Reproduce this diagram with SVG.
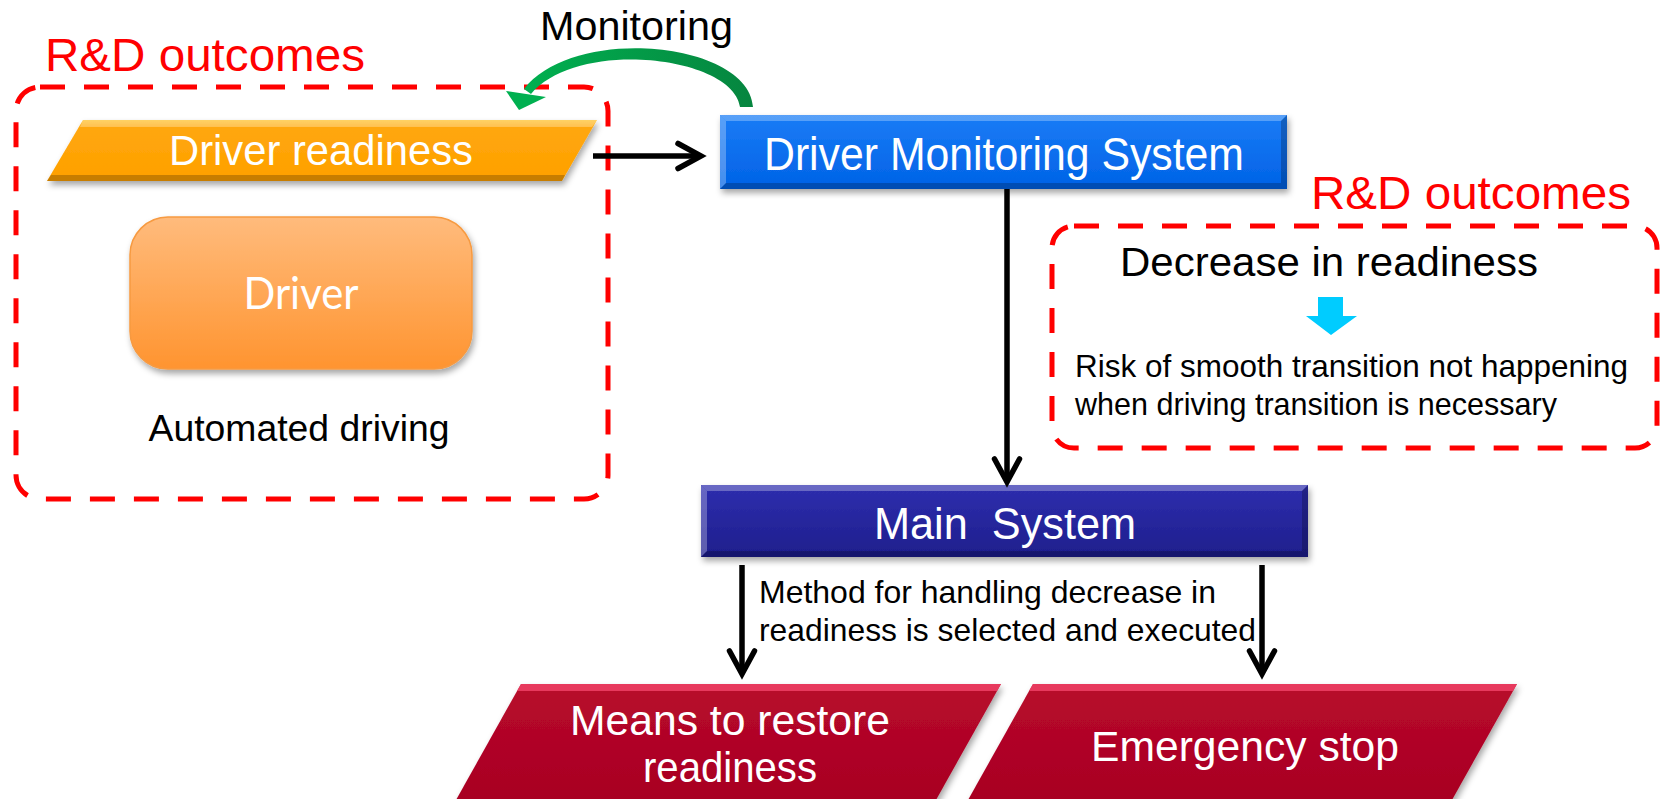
<svg xmlns="http://www.w3.org/2000/svg" width="1661" height="799" viewBox="0 0 1661 799">
  <style>
    .lbl { font-family: "Liberation Sans", Arial, sans-serif; }
    .white { fill: #ffffff; }
    .black { fill: #000000; }
    .red { fill: #ff0000; }
    .dash { fill: none; stroke: #ff0000; stroke-width: 5; stroke-dasharray: 25 19; }
    .conn { fill: none; stroke: #000000; stroke-width: 5.5; marker-end: url(#chev); }
    .hi { fill: #ffffff; opacity: 0.28; }
    .lo { fill: #000000; opacity: 0.22; }
  </style>
  <defs>
    <marker id="chev" markerUnits="userSpaceOnUse" markerWidth="40" markerHeight="40" refX="0" refY="0" orient="auto" overflow="visible">
      <path d="M -23 -12.5 L 0 0 L -23 12.5" fill="none" stroke="#000000" stroke-width="5.5" stroke-linecap="round" stroke-linejoin="miter"/>
    </marker>
    <filter id="shadow" x="-10%" y="-20%" width="120%" height="160%">
      <feDropShadow dx="2" dy="4" stdDeviation="3" flood-color="#000000" flood-opacity="0.35"/>
    </filter>
    <linearGradient id="gOrange" x1="0" y1="0" x2="0" y2="1">
      <stop offset="0" stop-color="#ffc02a"/>
      <stop offset="0.12" stop-color="#ffa70c"/>
      <stop offset="1" stop-color="#ffa000"/>
    </linearGradient>
    <linearGradient id="gDriver" x1="0" y1="0" x2="0" y2="1">
      <stop offset="0" stop-color="#ffbb7c"/>
      <stop offset="1" stop-color="#ff9430"/>
    </linearGradient>
    <linearGradient id="gBlue" x1="0" y1="0" x2="0" y2="1">
      <stop offset="0" stop-color="#1a7cf6"/>
      <stop offset="1" stop-color="#0062e6"/>
    </linearGradient>
    <linearGradient id="gNavy" x1="0" y1="0" x2="0" y2="1">
      <stop offset="0" stop-color="#2e2eae"/>
      <stop offset="1" stop-color="#1e1e8c"/>
    </linearGradient>
    <linearGradient id="gCrimson" x1="0" y1="0" x2="0" y2="1">
      <stop offset="0" stop-color="#b80a2c"/>
      <stop offset="1" stop-color="#a80022"/>
    </linearGradient>
    <linearGradient id="gGreen" x1="0" y1="0" x2="1" y2="0">
      <stop offset="0" stop-color="#00b050"/>
      <stop offset="1" stop-color="#06853f"/>
    </linearGradient>
  </defs>

  <!-- Group frames with titles -->
  <g id="frame-left">
    <rect class="dash" x="16" y="87" width="592" height="412" rx="24"/>
    <text class="lbl red" x="45" y="71" font-size="46" textLength="320" lengthAdjust="spacingAndGlyphs">R&amp;D outcomes</text>
  </g>
  <g id="frame-right">
    <rect class="dash" x="1052" y="226" width="605" height="222" rx="22"/>
    <text class="lbl red" x="1311" y="209" font-size="46" textLength="320" lengthAdjust="spacingAndGlyphs">R&amp;D outcomes</text>
  </g>

  <!-- Driver readiness -->
  <g id="driver-readiness">
    <polygon points="83,120 597,120 562,181 47,181" fill="url(#gOrange)" filter="url(#shadow)"/>
    <polygon class="hi" points="83,120 597,120 592,127 80,127"/>
    <polygon class="lo" points="51,175 565,175 562,181 47,181"/>
    <text class="lbl white" x="321" y="165" font-size="43" text-anchor="middle" textLength="304" lengthAdjust="spacingAndGlyphs">Driver readiness</text>
  </g>

  <!-- Driver -->
  <g id="driver">
    <rect x="130" y="217" width="342" height="152" rx="38" fill="url(#gDriver)" stroke="#f79a40" stroke-width="1.5" filter="url(#shadow)"/>
    <text x="301" y="309" font-family="Lato, 'Open Sans', sans-serif" font-size="44" fill="#ffffff" text-anchor="middle" textLength="115" lengthAdjust="spacingAndGlyphs">Driver</text>
  </g>
  <g id="automated-driving">
    <text class="lbl black" x="299" y="441" font-size="37" text-anchor="middle" textLength="301" lengthAdjust="spacingAndGlyphs">Automated driving</text>
  </g>

  <!-- Monitoring label -->
  <g id="monitoring-label">
    <text class="lbl black" x="540" y="40" font-size="40" textLength="193" lengthAdjust="spacingAndGlyphs">Monitoring</text>
  </g>

  <!-- Driver Monitoring System -->
  <g id="dms">
    <rect x="720" y="115" width="567" height="74" fill="url(#gBlue)" filter="url(#shadow)"/>
    <polygon class="hi" points="720,115 1287,115 1281,121 726,121"/>
    <polygon class="hi" points="720,115 726,121 726,183 720,189" opacity="0.15"/>
    <polygon class="lo" points="720,189 1287,189 1281,183 726,183"/>
    <polygon class="lo" points="1287,115 1287,189 1281,183 1281,121" opacity="0.12"/>
    <text class="lbl white" x="1004" y="170" font-size="47" text-anchor="middle" textLength="480" lengthAdjust="spacingAndGlyphs">Driver Monitoring System</text>
  </g>

  <!-- Decrease in readiness -->
  <g id="decrease">
    <text class="lbl black" x="1120" y="276" font-size="41" textLength="418" lengthAdjust="spacingAndGlyphs">Decrease in readiness</text>
    <polygon points="1318,297 1343,297 1343,316 1357,316 1331,335 1306,316 1318,316" fill="#00ccff"/>
    <text class="lbl black" x="1075" y="377" font-size="32" textLength="553" lengthAdjust="spacingAndGlyphs">Risk of smooth transition not happening</text>
    <text class="lbl black" x="1075" y="415" font-size="32" textLength="482" lengthAdjust="spacingAndGlyphs">when driving transition is necessary</text>
  </g>

  <!-- Main System -->
  <g id="main-system">
    <rect x="701" y="485" width="607" height="72" fill="url(#gNavy)" filter="url(#shadow)"/>
    <polygon class="hi" points="701,485 1308,485 1302,491 707,491"/>
    <polygon class="hi" points="701,485 707,491 707,551 701,557" opacity="0.15"/>
    <polygon class="lo" points="701,557 1308,557 1302,551 707,551"/>
    <polygon class="lo" points="1308,485 1308,557 1302,551 1302,491" opacity="0.12"/>
    <text class="lbl white" x="1005" y="539" font-size="44" text-anchor="middle" textLength="262" lengthAdjust="spacingAndGlyphs">Main&#160; System</text>
  </g>

  <!-- Handling label -->
  <g id="handling-label">
    <text class="lbl black" x="759" y="603" font-size="32" textLength="457" lengthAdjust="spacingAndGlyphs">Method for handling decrease in</text>
    <text class="lbl black" x="759" y="641" font-size="32" textLength="497" lengthAdjust="spacingAndGlyphs">readiness is selected and executed</text>
  </g>

  <!-- Means to restore readiness -->
  <g id="restore">
    <polygon points="521,684 1001,684 936,800 456,800" fill="url(#gCrimson)" filter="url(#shadow)"/>
    <polygon points="521,684 1001,684 997,691 517,691" fill="#f2456a" opacity="0.8"/>
    <text class="lbl white" x="730" y="735" font-size="43" text-anchor="middle" textLength="320" lengthAdjust="spacingAndGlyphs">Means to restore</text>
    <text class="lbl white" x="730" y="782" font-size="43" text-anchor="middle" textLength="174" lengthAdjust="spacingAndGlyphs">readiness</text>
  </g>

  <!-- Emergency stop -->
  <g id="emergency">
    <polygon points="1033,684 1517,684 1452,800 968,800" fill="url(#gCrimson)" filter="url(#shadow)"/>
    <polygon points="1033,684 1517,684 1513,691 1029,691" fill="#f2456a" opacity="0.8"/>
    <text class="lbl white" x="1245" y="761" font-size="43" text-anchor="middle" textLength="308" lengthAdjust="spacingAndGlyphs">Emergency stop</text>
  </g>

  <!-- Connectors -->
  <g id="connectors">
    <path class="conn" d="M 593 156 L 701 156"/>
    <path class="conn" d="M 1007 189 L 1007 482"/>
    <path class="conn" d="M 742 565 L 742 674"/>
    <path class="conn" d="M 1262 565 L 1262 674"/>
    <!-- curved monitoring arrow, tapering toward its head -->
    <path d="M 753 107 C 749 42, 575 24, 524 89 L 531 94 C 578 38, 733 56, 740 107 Z" fill="url(#gGreen)"/>
    <polygon points="506,91 546,97 519,110" fill="#00b050"/>
  </g>
</svg>
